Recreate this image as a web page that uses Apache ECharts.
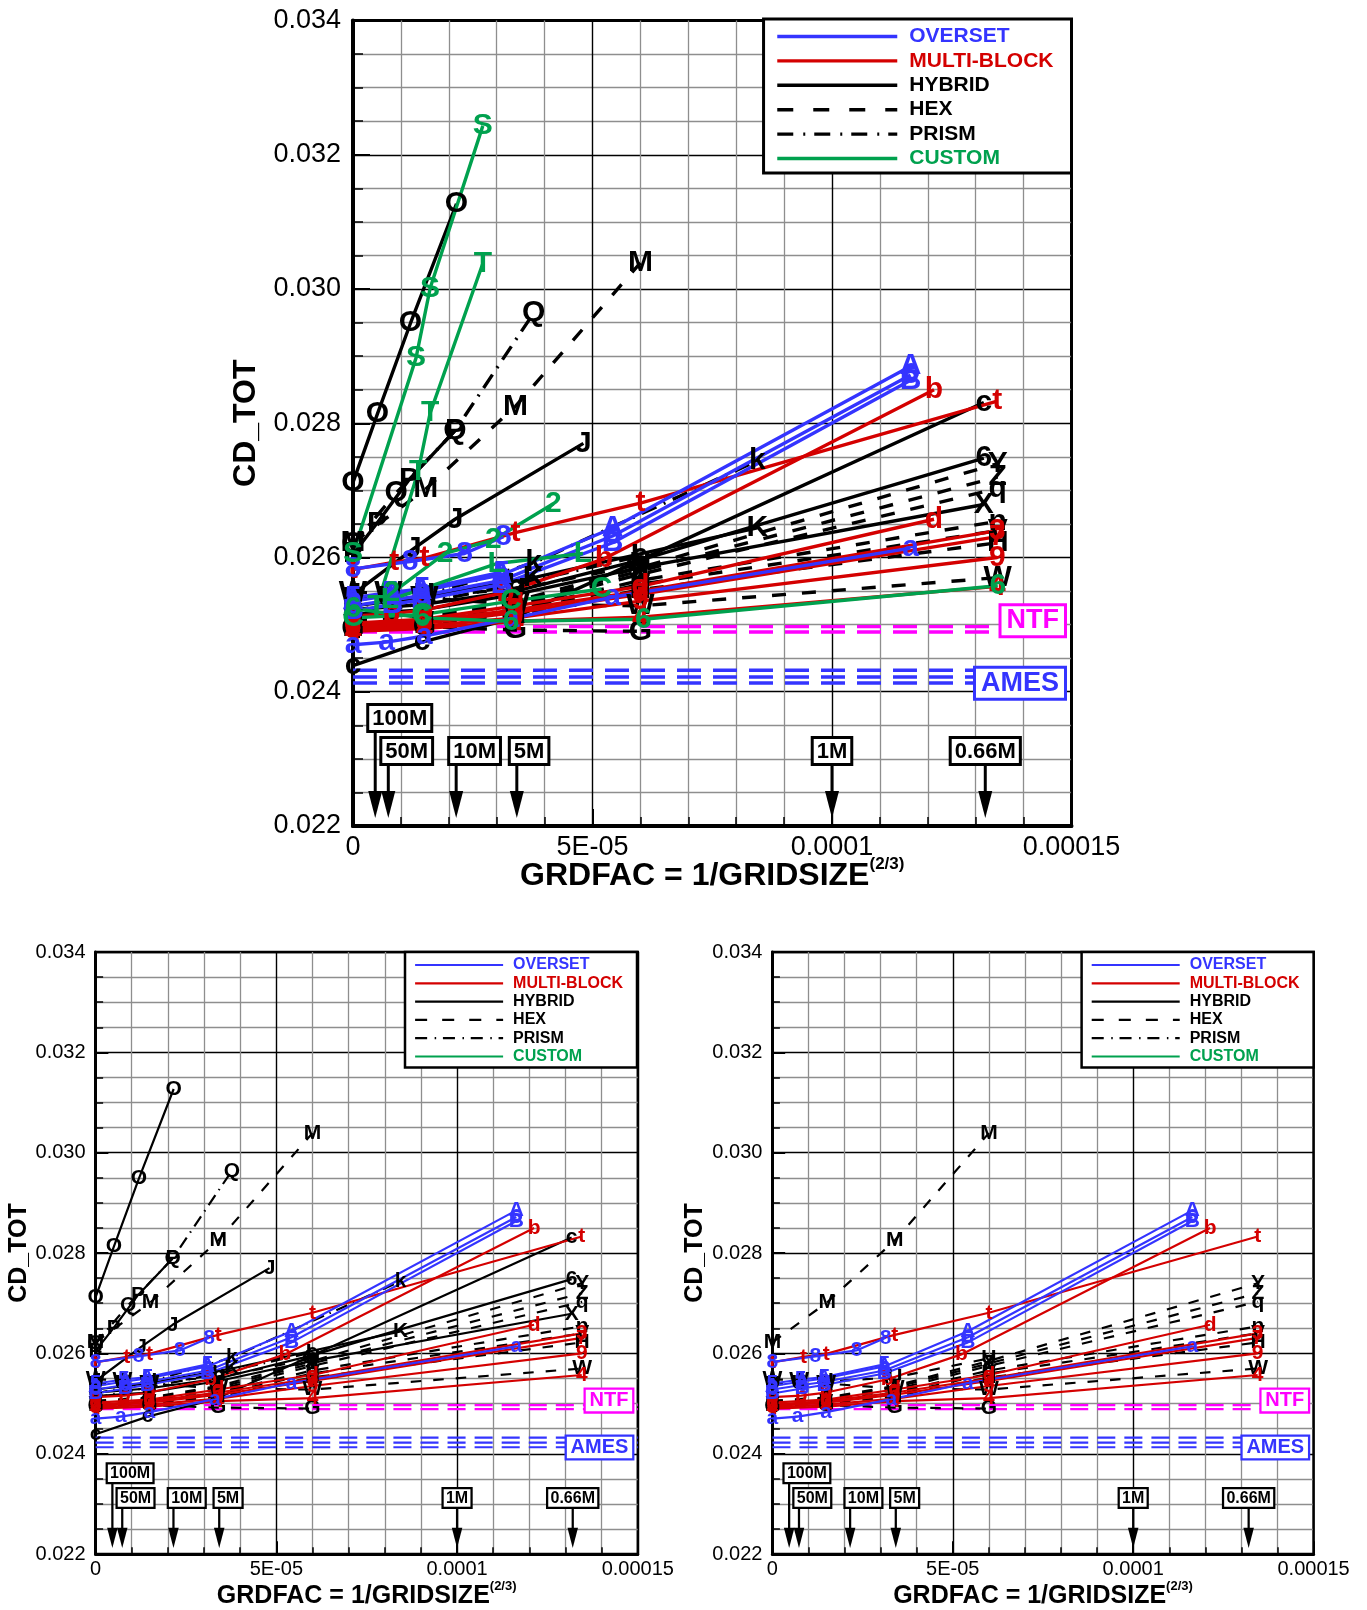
<!DOCTYPE html>
<html><head><meta charset="utf-8">
<script src="https://cdn.jsdelivr.net/npm/echarts@6/dist/echarts.min.js"></script>
<style>html,body{margin:0;padding:0;background:#fff}#c{width:1367px;height:1610px}</style>
</head><body><div id="c"></div>
<script>
// ================= DATA =================
const xTickLabels = ['0', '5E-05', '0.0001', '0.00015'];
const legendNames = ['OVERSET', 'MULTI-BLOCK', 'HYBRID', 'HEX', 'PRISM', 'CUSTOM'];
const gridSizeLabels = ['100M', '50M', '10M', '5M', '1M', '0.66M'];
const gridSizeFac = [4.64e-6, 7.37e-6, 2.154e-5, 3.42e-5, 1.0e-4, 1.32e-4];
const ntfLevels = [0.02497, 0.02489];
const amesLevels = [0.02432, 0.02422, 0.02413];

// OVERSET
const ovA = [[0,0.02535],[0.82e-5,0.02544],[1.43e-5,0.0255],[3.1e-5,0.02574],[5.42e-5,0.02644],[1.164e-4,0.02885]];
const ov6 = [[0,0.02528],[0.82e-5,0.02537],[1.43e-5,0.02543],[3.1e-5,0.02566],[5.42e-5,0.02632],[1.164e-4,0.02872]];
const ovB = [[0,0.0252],[0.82e-5,0.0253],[1.43e-5,0.02537],[3.1e-5,0.0256],[5.42e-5,0.02622],[1.164e-4,0.02864]];
const ov8 = [[0,0.02583],[1.19e-5,0.02594],[2.33e-5,0.02606],[3.14e-5,0.02631]];
const ova = [[0,0.0247],[0.7e-5,0.02474],[1.49e-5,0.02483],[3.3e-5,0.02509],[5.42e-5,0.02541],[1.164e-4,0.02614]];
const ov5 = [[0,0.0254],[0.78e-5,0.02548],[1.44e-5,0.02553],[3.1e-5,0.02578]];
// MULTI-BLOCK
const mbt = [[0,0.02582],[0.86e-5,0.02593],[1.49e-5,0.02599],[3.39e-5,0.02637],[6.0e-5,0.02681],[1.345e-4,0.02833]];
const mbb = [[0,0.02513],[0.8e-5,0.02516],[1.49e-5,0.02522],[3.18e-5,0.02548],[5.24e-5,0.02598],[1.213e-4,0.0285]];
const mbd = [[0,0.02502],[1.49e-5,0.02508],[3.39e-5,0.02528],[6.0e-5,0.02557],[1.213e-4,0.02657]];
const mb3 = [[0,0.02498],[1.49e-5,0.02505],[3.39e-5,0.02522],[6.0e-5,0.0255],[1.345e-4,0.0264]];
const mb7 = [[0,0.02495],[1.49e-5,0.02502],[3.39e-5,0.02518],[6.0e-5,0.02545],[1.345e-4,0.02631]];
const mb9 = [[0,0.02492],[1.49e-5,0.02498],[3.39e-5,0.0251],[6.0e-5,0.02535],[1.345e-4,0.026]];
const mb4 = [[0,0.0249],[1.49e-5,0.02494],[3.39e-5,0.02505],[6.0e-5,0.02511],[1.345e-4,0.02557]];
// HYBRID (solid)
const hyO = [[0,0.02712],[0.51e-5,0.02814],[1.2e-5,0.02949],[2.16e-5,0.03127]];
const hyP = [[0,0.02605],[0.5e-5,0.02651],[1.17e-5,0.02716],[2.13e-5,0.02789]];
const hyJ = [[0,0.02545],[1.26e-5,0.02613],[2.13e-5,0.02657],[4.81e-5,0.0277]];
const hyc = [[0,0.02439],[1.44e-5,0.02474],[3.32e-5,0.02509],[5.87e-5,0.02592],[1.317e-4,0.02831]];
const hy6 = [[0,0.02522],[1.44e-5,0.0253],[3.4e-5,0.0255],[5.99e-5,0.02596],[1.317e-4,0.02748]];
const hyK = [[0,0.02528],[1.44e-5,0.0254],[3.77e-5,0.0257],[8.44e-5,0.02644]];
const hyX = [[0,0.02515],[1.44e-5,0.02522],[3.4e-5,0.02545],[5.99e-5,0.02585],[1.317e-4,0.02679]];
// HEX (dashed)
const hxM = [[0,0.02622],[1.52e-5,0.02702],[3.39e-5,0.02825],[6.0e-5,0.03039]];
const hxY = [[0,0.02506],[1.49e-5,0.02512],[3.39e-5,0.02535],[6.0e-5,0.02585],[1.346e-4,0.0274]];
const hxZ = [[0,0.02504],[1.49e-5,0.0251],[3.39e-5,0.02532],[6.0e-5,0.0258],[1.346e-4,0.0272]];
const hxq = [[0,0.02502],[1.49e-5,0.02508],[3.39e-5,0.02528],[6.0e-5,0.02575],[1.346e-4,0.02703]];
const hxn = [[0,0.025],[1.49e-5,0.02506],[3.39e-5,0.02522],[6.0e-5,0.02566],[1.346e-4,0.02654]];
const hxV = [[0,0.02498],[1.49e-5,0.02503],[3.39e-5,0.02518],[6.0e-5,0.0256],[1.346e-4,0.0264]];
const hxH = [[0,0.02496],[1.49e-5,0.025],[3.39e-5,0.02514],[6.0e-5,0.02552],[1.346e-4,0.02622]];
const hxW = [[0,0.02548],[0.74e-5,0.02547],[1.49e-5,0.0254],[3.39e-5,0.0253],[6.0e-5,0.02528],[1.346e-4,0.0257]];
const hxG = [[0,0.02494],[1.49e-5,0.02497],[3.39e-5,0.02492],[6.0e-5,0.0249]];
const hxU = [[0,0.02538],[0.74e-5,0.0254],[1.49e-5,0.02544],[3.39e-5,0.02552],[6.0e-5,0.0259]];
// PRISM (dash-dot)
const prQ = [[0,0.0262],[0.9e-5,0.02696],[2.13e-5,0.02789],[3.77e-5,0.02964]];
const prk = [[0,0.0252],[1.44e-5,0.02542],[3.77e-5,0.02592],[8.44e-5,0.02744]];
const prL = [[0,0.02512],[1.44e-5,0.02532],[3.4e-5,0.0256],[5.99e-5,0.02602]];
// CUSTOM
const cuS = [[0,0.02606],[1.315e-5,0.02897],[1.61e-5,0.03001],[2.71e-5,0.03243]];
const cuT = [[0.49e-5,0.02526],[1.36e-5,0.02728],[1.61e-5,0.02815],[2.71e-5,0.03038]];
const cu2 = [[0.81e-5,0.02547],[1.92e-5,0.02606],[2.93e-5,0.02626],[4.18e-5,0.0268]];
const cuL = [[0.77e-5,0.02537],[3.0e-5,0.02591],[4.8e-5,0.02606]];
const cu6 = [[0,0.02524],[1.44e-5,0.0251],[3.3e-5,0.02505],[6.06e-5,0.02508],[1.346e-4,0.02558]];
const cuC = [[0,0.0251],[1.44e-5,0.02515],[3.3e-5,0.02535],[5.19e-5,0.02553]];

// series registry: data, group (colour), line type, marker letter
const seriesDefs = [
  {d:hxM,g:'hy',t:'hex',m:'M'},{d:hxY,g:'hy',t:'hex',m:'Y'},{d:hxZ,g:'hy',t:'hex',m:'Z'},
  {d:hxq,g:'hy',t:'hex',m:'q'},{d:hxn,g:'hy',t:'hex',m:'n'},{d:hxV,g:'hy',t:'hex',m:'V'},
  {d:hxH,g:'hy',t:'hex',m:'H'},{d:hxW,g:'hy',t:'hex',m:'W'},{d:hxG,g:'hy',t:'hex',m:'G'},
  {d:hxU,g:'hy',t:'hex',m:'U'},
  {d:prQ,g:'hy',t:'prism',m:'Q'},{d:prk,g:'hy',t:'prism',m:'k'},{d:prL,g:'hy',t:'prism',m:'L'},
  {d:hyO,g:'hy',t:'solid',m:'O'},{d:hyP,g:'hy',t:'solid',m:'P'},{d:hyJ,g:'hy',t:'solid',m:'J'},
  {d:hyc,g:'hy',t:'solid',m:'c'},{d:hy6,g:'hy',t:'solid',m:'6'},{d:hyK,g:'hy',t:'solid',m:'K'},
  {d:hyX,g:'hy',t:'solid',m:'X'},
  {d:mbt,g:'mb',t:'solid',m:'t'},{d:mbb,g:'mb',t:'solid',m:'b'},{d:mbd,g:'mb',t:'solid',m:'d'},
  {d:mb3,g:'mb',t:'solid',m:'3'},{d:mb7,g:'mb',t:'solid',m:'7'},{d:mb9,g:'mb',t:'solid',m:'9'},
  {d:mb4,g:'mb',t:'solid',m:'4'},
  {d:ovA,g:'ov',t:'solid',m:'A'},{d:ov6,g:'ov',t:'solid',m:'6'},{d:ovB,g:'ov',t:'solid',m:'B'},
  {d:ov8,g:'ov',t:'solid',m:'8'},{d:ova,g:'ov',t:'solid',m:'a'},{d:ov5,g:'ov',t:'solid',m:'5'},
  {d:cuS,g:'cu',t:'solid',m:'S'},{d:cuT,g:'cu',t:'solid',m:'T'},{d:cu2,g:'cu',t:'solid',m:'2'},
  {d:cuL,g:'cu',t:'solid',m:'L'},{d:cu6,g:'cu',t:'solid',m:'6'},{d:cuC,g:'cu',t:'solid',m:'C'}
];

// ================= STYLE / LAYOUT =================
const FONT = '"Liberation Sans", Arial, Helvetica, sans-serif';
const COL = {ov:'#3434ff', mb:'#d40000', hy:'#000000', cu:'#00a14e'};
const NTF_COL = '#ff00ff', AMES_COL = '#3434ff';
const legendColors = [COL.ov, COL.mb, '#000', '#000', '#000', COL.cu];
const legendGroups = ['ov','mb','hy','hy','hy','cu'];
const legendTypes = ['solid','solid','solid','hex','prism','solid'];
const arrowRow = [0,1,1,1,1,1];
const arrowAnchor = ['left','left','left','left','center','center'];

const panels = [
  {left:353, top:20.5, width:718.5, height:805.5, s:1, lw:3.4, mfs:30, tfs:27, nfs:32, yGap:85, xGap:30, moveName:false,
   legendRight:295.5, legendTop:19, filter: d => true},
  {left:95.6, top:952, width:542.2, height:606, s:0.752, lw:2.2, mfs:21, tfs:20, nfs:25, yGap:63, xGap:17, moveName:true,
   legendRight:730, legendTop:952, filter: d => d.g !== 'cu'},
  {left:772.4, top:952, width:541.2, height:606, s:0.752, lw:2.2, mfs:21, tfs:20, nfs:25, yGap:65, xGap:17, moveName:true,
   legendRight:53.4, legendTop:952, filter: d => d.g === 'ov' || d.g === 'mb' || d.t === 'hex'}
];

function dash(t, s) {
  if (t === 'hex') return [14*s, 16*s];
  if (t === 'prism') return [16*s, 8*s, 2*s, 8*s];
  return 'solid';
}

const grids = [], xAxes = [], yAxes = [], series = [], legends = [];

panels.forEach((P, i) => {
  const s = P.s;
  grids.push({left:P.left, top:P.top, width:P.width, height:P.height, show:true,
    borderColor:'#000', borderWidth: i===0 ? 3 : 2.5, backgroundColor:'#fff', containLabel:false});
  xAxes.push({
    type:'value', gridIndex:i, min:0, max:1.5e-4, interval:5e-5,
    axisLine:{show:true, onZero:false, lineStyle:{color:'#000', width: i===0?4:3}},
    axisTick:{show:true, inside:true, length:17*s, lineStyle:{color:'#000', width:2}},
    minorTick:{show:true, splitNumber:5, length:9*s, lineStyle:{color:'#000', width:1.5}},
    splitLine:{show:true, lineStyle:{color:'#000', width:1.4}},
    minorSplitLine:{show:true, lineStyle:{color:'#8e8e8e', width:1.3}},
    axisLabel:{fontSize:P.tfs, color:'#000', fontFamily:FONT, margin: i===0?8:5,
      formatter: v => xTickLabels[Math.round(v/5e-5)]},
    name:'{m|GRDFAC = 1/GRIDSIZE}{s|(2/3)}', nameLocation:'middle', nameGap:P.xGap,
    nameMoveOverlap:P.moveName,
    nameTextStyle:{rich:{
      m:{fontSize:P.nfs, fontWeight:'bold', fontFamily:FONT, color:'#000', lineHeight:P.nfs+4, verticalAlign:'bottom'},
      s:{fontSize:Math.round(P.nfs*0.53), fontWeight:'bold', fontFamily:FONT, color:'#000', lineHeight:P.nfs+4, verticalAlign:'top'}
    }}
  });
  yAxes.push({
    type:'value', gridIndex:i, min:0.022, max:0.034, interval:0.002,
    axisLine:{show:true, onZero:false, lineStyle:{color:'#000', width: i===0?4:3}},
    axisTick:{show:true, inside:true, length:17*s, lineStyle:{color:'#000', width:2}},
    minorTick:{show:true, splitNumber:4, length:10*s, lineStyle:{color:'#000', width:1.5}},
    splitLine:{show:true, lineStyle:{color:'#000', width:1.4}},
    minorSplitLine:{show:true, lineStyle:{color:'#8e8e8e', width:1.3}},
    axisLabel:{fontSize:P.tfs, color:'#000', fontFamily:FONT, margin: i===0?12:10,
      formatter: v => v.toFixed(3)},
    name:'CD_TOT', nameLocation:'middle', nameGap:P.yGap,
    nameTextStyle:{fontSize:P.nfs, fontWeight:'bold', fontFamily:FONT, color:'#000'}
  });

  // reference lines NTF / AMES
  ntfLevels.forEach(l => series.push({type:'line', xAxisIndex:i, yAxisIndex:i, silent:true, symbol:'none',
    data:[[0,l],[1.5e-4,l]], lineStyle:{color:NTF_COL, width:P.lw, type:[24*s,12*s]}, z:2}));
  amesLevels.forEach(l => series.push({type:'line', xAxisIndex:i, yAxisIndex:i, silent:true, symbol:'none',
    data:[[0,l],[1.5e-4,l]], lineStyle:{color:AMES_COL, width:P.lw, type:[24*s,12*s]}, z:2}));

  // data series with letter markers
  seriesDefs.filter(P.filter).forEach(sd => series.push({
    type:'line', xAxisIndex:i, yAxisIndex:i, data:sd.d, silent:true,
    symbol:'circle', symbolSize:1, showSymbol:true, itemStyle:{color:'rgba(0,0,0,0)'},
    lineStyle:{color:COL[sd.g], width:P.lw, type:dash(sd.t, s)},
    label:{show:true, position:'inside', formatter:sd.m, color:COL[sd.g], fontSize:P.mfs,
      fontWeight:'bold', fontFamily:FONT, align:'center', verticalAlign:'middle'},
    emphasis:{disabled:true}, z:3
  }));

  // NTF / AMES boxes
  const mean = a => a.reduce((p,c)=>p+c,0)/a.length;
  [[ntfLevels,'NTF',NTF_COL,-8.6],[amesLevels,'AMES',AMES_COL,6.5]].forEach(([lv,txt,col,dy]) => {
    series.push({type:'custom', xAxisIndex:i, yAxisIndex:i, silent:true, clip:false, z:6,
      data:[[0, mean(lv)]],
      renderItem:(params, api) => {
        const cs = params.coordSys;
        const y = api.coord([api.value(0), api.value(1)])[1];
        return {type:'text', x: cs.x + cs.width - 7.5*s, y: y + dy*s,
          style:{text:txt, fill:col, font:`bold ${i===0?27:20}px ${FONT}`, align:'right', verticalAlign:'middle',
            backgroundColor:'#fff', borderColor:col, borderWidth:3*s, padding:[2*s,5*s,0,5*s]}};
      }});
  });

  // grid-size arrows
  series.push({type:'custom', xAxisIndex:i, yAxisIndex:i, silent:true, clip:false, z:6,
    data: gridSizeFac.map((f,k) => [f, k]),
    renderItem:(params, api) => {
      const cs = params.coordSys;
      const k = api.value(1);
      const x = api.coord([api.value(0), 0.022])[0];
      const bottom = cs.y + cs.height;
      const boxBottom = bottom - (arrowRow[k] === 0 ? 96 : 63)*s;
      const tip = bottom - 8*s, hh = 27*s, hw = 7*s;
      const anc = arrowAnchor[k];
      return {type:'group', children:[
        {type:'line', shape:{x1:x, y1:boxBottom, x2:x, y2:tip-hh+2}, style:{stroke:'#000', lineWidth:3*s}},
        {type:'polygon', shape:{points:[[x-hw,tip-hh],[x+hw,tip-hh],[x,tip]]}, style:{fill:'#000'}},
        {type:'text', x: anc === 'left' ? x - 6*s : x, y: boxBottom,
          style:{text:gridSizeLabels[k], fill:'#000', font:`bold ${i===0?22:16}px ${FONT}`,
            align:anc, verticalAlign:'bottom', backgroundColor:'#fff', borderColor:'#000',
            borderWidth:3*s, padding:[2*s,3*s,0,3*s]}}
      ]};
    }});

  // legend
  legends.push({
    orient:'vertical', right:P.legendRight, top:P.legendTop, selectedMode:false,
    itemWidth: i===0 ? 120 : 88, itemHeight: i===0 ? 16 : 12, itemGap: i===0 ? 3.4 : 2.3,
    borderColor:'#000', borderWidth: i===0 ? 3 : 2.5, backgroundColor:'#fff',
    padding: i===0 ? [7,18,4,12] : [5,14,3,9],
    itemStyle:{opacity:0},
    textStyle:{fontSize: i===0 ? 21 : 16, fontWeight:'bold', fontFamily:FONT,
      lineHeight: i===0 ? 20 : 15, padding:[0,0,0, i===0 ? 7 : 5]},
    data: legendNames.map((n,k) => ({name:n, textStyle:{color:legendColors[k]},
      itemStyle:{opacity:0, borderWidth:0},
      lineStyle:{color:COL[legendGroups[k]], width:P.lw, opacity:1,
        type: legendTypes[k]==='hex' ? [16*s,20*s] : legendTypes[k]==='prism' ? [16*s,10*s,2*s,9*s] : 'solid'}}))
  });
});

// dummy series for legend entries
legendNames.forEach((n,k) => series.push({type:'line', name:n, xAxisIndex:0, yAxisIndex:0, data:[],
  symbol:'none', silent:true, itemStyle:{color:COL[legendGroups[k]]},
  lineStyle:{color:COL[legendGroups[k]], width:3, type: dash(legendTypes[k], 1)}}));

const chart = echarts.init(document.getElementById('c'), null, {renderer:'canvas', width:1367, height:1610});
chart.setOption({
  animation:false, backgroundColor:'#fff',
  textStyle:{fontFamily:FONT},
  grid:grids, xAxis:xAxes, yAxis:yAxes, legend:legends, series:series
});
</script></body></html>
